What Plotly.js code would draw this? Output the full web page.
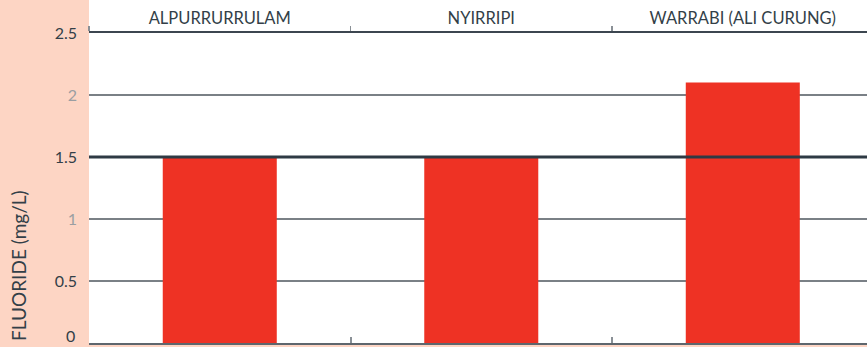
<!DOCTYPE html>
<html>
<head>
<meta charset="utf-8">
<script src="https://cdn.plot.ly/plotly-3.0.1.min.js"></script>
<style>html,body{margin:0;padding:0;background:#FDD5C4;}#chart{width:867px;height:347px;}</style>
</head>
<body>
<div id="chart"></div>
<script>
const categories = ["ALPURRURRULAM", "NYIRRIPI", "WARRABI (ALI CURUNG)"];
const fluoride = [1.5, 1.5, 2.1];
const guideline = 1.5;
const yTickVals = [0, 0.5, 1, 1.5, 2, 2.5];
const yTickText = ["0", "0.5", "<span style='color:#9A9EA2'>1</span>", "1.5", "<span style='color:#9A9EA2'>2</span>", "2.5"];
const yTitle = "FLUORIDE (mg/L)";

const FONT = "Lato, 'DejaVu Sans', sans-serif";
const DARK = "#333F48";

// the bottom tick label is drawn as an annotation so it stays inside the page
const axisTickText = yTickText.map((t, i) => (yTickVals[i] === 0 ? "" : t));

const traces = [
  {type: "bar", x: categories, y: fluoride, marker: {color: "#EE3224"}, hoverinfo: "skip", xaxis: "x", yaxis: "y"},
  {type: "scatter", mode: "markers", x: categories, y: fluoride, marker: {opacity: 0}, hoverinfo: "skip", xaxis: "x2", yaxis: "y", showlegend: false}
];

const layout = {
  width: 867, height: 347,
  margin: {l: 89, r: 0, t: 33, b: 4, pad: 0},
  paper_bgcolor: "#FDD5C4",
  plot_bgcolor: "#FFFFFF",
  showlegend: false,
  bargap: 0.564,
  font: {family: FONT, color: DARK},
  xaxis: {
    type: "category", range: [-0.5, 2.475],
    showticklabels: false, showgrid: false, zeroline: false,
    ticks: "inside", tickson: "boundaries", ticklen: 6, tickwidth: 2, tickcolor: "#8A9096",
    showline: true, linecolor: "#5E666D", linewidth: 2
  },
  xaxis2: {
    type: "category", overlaying: "x", side: "top", matches: "x", range: [-0.5, 2.475],
    showgrid: false, zeroline: false,
    ticks: "outside", tickson: "boundaries", ticklen: 5, tickwidth: 1.5, tickcolor: "#8A9096",
    showline: true, linecolor: "#3C4650", linewidth: 2,
    tickfont: {family: FONT, size: 16.5, color: DARK}, ticklabelstandoff: 0
  },
  yaxis: {
    range: [0, 2.5], tickvals: yTickVals, ticktext: axisTickText,
    showgrid: true, gridcolor: "#7A8086", gridwidth: 1.5, zeroline: false,
    ticks: "", ticklabelstandoff: 11,
    tickfont: {family: FONT, size: 16, color: DARK}
  },
  shapes: [
    {type: "rect", xref: "paper", yref: "paper", x0: 0, x1: 1, y0: -0.0065, y1: 1.11, fillcolor: "#FFFFFF", line: {width: 0}, layer: "below"},
    {type: "line", xref: "paper", yref: "y", x0: 0, x1: 1, y0: guideline, y1: guideline, line: {color: "#2E3A44", width: 3}, layer: "above"}
  ],
  annotations: [
    {text: yTitle, xref: "paper", yref: "paper", x: -0.0913, y: 0.2516, xanchor: "center", yanchor: "middle", textangle: -90, showarrow: false, font: {family: FONT, size: 19, color: DARK}},
    {text: yTickText[0], xref: "paper", yref: "y", x: -0.0154, y: yTickVals[0], xanchor: "right", yanchor: "bottom", yshift: -4, showarrow: false, font: {family: FONT, size: 16, color: DARK}}
  ]
};

Plotly.newPlot("chart", traces, layout, {displayModeBar: false, staticPlot: true});
</script>
</body>
</html>
